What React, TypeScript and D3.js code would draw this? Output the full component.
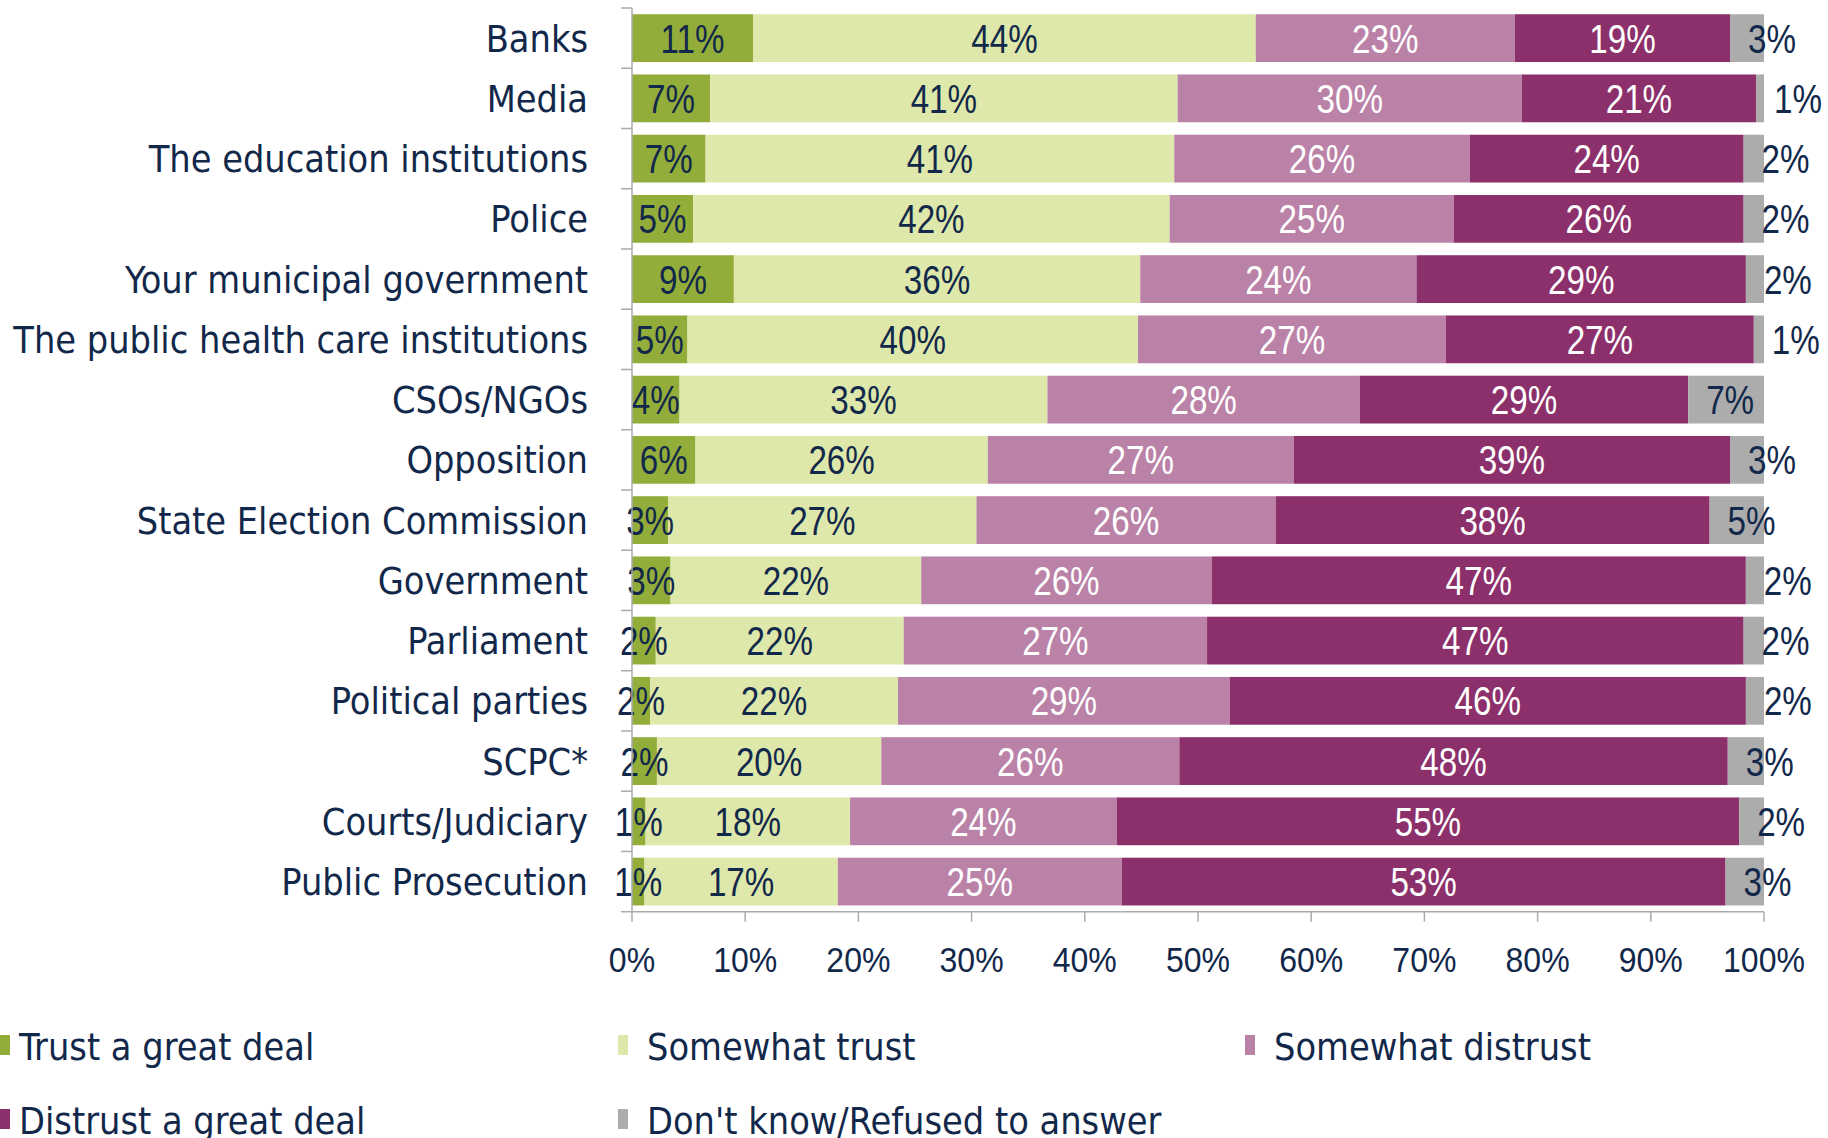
import React from "react";
import * as d3 from "d3";

const categories = [
  "Banks",
  "Media",
  "The education institutions",
  "Police",
  "Your municipal government",
  "The public health care institutions",
  "CSOs/NGOs",
  "Opposition",
  "State Election Commission",
  "Government",
  "Parliament",
  "Political parties",
  "SCPC*",
  "Courts/Judiciary",
  "Public Prosecution",
];

const seriesNames = [
  "Trust a great deal",
  "Somewhat trust",
  "Somewhat distrust",
  "Distrust a great deal",
  "Don't know/Refused to answer",
];

const trustGreatDeal = [10.7, 6.9, 6.5, 5.4, 9.0, 4.9, 4.2, 5.6, 3.2, 3.4, 2.1, 1.6, 2.2, 1.2, 1.1];
const somewhatTrust = [44.4, 41.3, 41.4, 42.1, 35.9, 39.8, 32.5, 25.8, 27.2, 22.1, 21.9, 21.9, 19.8, 18.1, 17.1];
const somewhatDistrust = [22.9, 30.4, 26.1, 25.1, 24.4, 27.2, 27.6, 27.0, 26.4, 25.6, 26.8, 29.3, 26.3, 23.6, 25.1];
const distrustGreatDeal = [19.0, 20.7, 24.2, 25.6, 29.1, 27.2, 29.0, 38.5, 38.3, 47.1, 47.4, 45.6, 48.4, 55.1, 53.4];
const dontKnow = [3.0, 0.7, 1.8, 1.8, 1.6, 0.9, 6.7, 3.0, 4.8, 1.6, 1.8, 1.6, 3.2, 2.2, 3.4];

const xTicks = [0, 10, 20, 30, 40, 50, 60, 70, 80, 90, 100];

const colors = ["#93AD3B", "#DDE8AA", "#BB82A8", "#8C306B", "#ACACAC"];
const labelColors = ["#12284A", "#12284A", "#FFFFFF", "#FFFFFF", "#12284A"];
const navy = "#12284A";
const axisGray = "#ABABAB";

const W = 1828;
const H = 1138;

export default function App() {
  const seriesValues = [trustGreatDeal, somewhatTrust, somewhatDistrust, distrustGreatDeal, dontKnow];
  const rows = categories.map((c, i) => {
    const r: any = { cat: c };
    seriesValues.forEach((s, k) => (r["s" + k] = s[i]));
    return r;
  });
  const keys = seriesValues.map((_, k) => "s" + k);
  const stack = d3.stack<any>().keys(keys).offset(d3.stackOffsetExpand);
  const stacked = stack(rows);

  const x = d3.scaleLinear().domain([0, 1]).range([632, 1764]);
  const xt = d3.scaleLinear().domain([0, 100]).range([632, 1764]);
  const y = d3
    .scaleBand<string>()
    .domain(categories)
    .range([8, 911.7])
    .paddingInner(0.207)
    .paddingOuter(0.1035);
  const bw = y.bandwidth();
  const step = y.step();
  const fmt = (v: number) => `${Math.round(v)}%`;

  const labelFont = "'DejaVu Sans Condensed', 'DejaVu Sans', sans-serif";
  const numFont = "'Liberation Sans', Arial, sans-serif";

  const legendPos = [
    { sx: 0, tx: 19, row: 0 },
    { sx: 618, tx: 647, row: 0 },
    { sx: 1245, tx: 1274, row: 0 },
    { sx: 0, tx: 19, row: 1 },
    { sx: 618, tx: 647, row: 1 },
  ];
  const legendRowY = [1035, 1109];

  const y0 = y.range()[0];
  const y1 = y.range()[1];

  return (
    <svg
      width={W}
      height={H}
      style={{ position: "absolute", left: 0, top: 0, background: "#fff" }}
    >
      {/* bars */}
      {stacked.map((layer, k) =>
        layer.map((d, i) => (
          <rect
            key={`b${k}-${i}`}
            x={x(d[0])}
            y={y(categories[i])}
            width={Math.max(0, x(d[1]) - x(d[0]))}
            height={bw}
            fill={colors[k]}
          />
        ))
      )}
      {/* value labels */}
      {stacked.map((layer, k) =>
        layer.map((d, i) => {
          const val = seriesValues[k][i];
          const cy = (y(categories[i]) as number) + bw / 2;
          const last = k === seriesValues.length - 1;
          const tx = last ? x(d[0]) + 18 : (x(d[0]) + x(d[1])) / 2;
          return (
            <text
              key={`l${k}-${i}`}
              transform={`translate(${tx},${cy + 14.5}) scale(0.83,1)`}
              textAnchor={last ? "start" : "middle"}
              fontFamily={numFont}
              fontSize={40}
              fill={labelColors[k]}
            >
              {fmt(val)}
            </text>
          );
        })
      )}
      {/* y axis */}
      <line x1={632} x2={632} y1={y0} y2={y1} stroke={axisGray} strokeWidth={1.5} />
      {d3.range(categories.length + 1).map((j) => (
        <line
          key={`yt${j}`}
          x1={621}
          x2={632}
          y1={y0 + j * step}
          y2={y0 + j * step}
          stroke={axisGray}
          strokeWidth={1.5}
        />
      ))}
      {categories.map((c) => (
        <text
          key={`yl${c}`}
          x={588}
          y={(y(c) as number) + bw / 2 + 13.5}
          textAnchor="end"
          fontFamily={labelFont}
          fontSize={37.5}
          fill={navy}
        >
          {c}
        </text>
      ))}
      {/* x axis */}
      <line x1={632} x2={1764} y1={y1} y2={y1} stroke={axisGray} strokeWidth={1.5} />
      {xTicks.map((t) => (
        <g key={`xt${t}`}>
          <line x1={xt(t)} x2={xt(t)} y1={y1} y2={y1 + 10} stroke={axisGray} strokeWidth={1.5} />
          <text
            transform={`translate(${xt(t)},971.5) scale(0.89,1)`}
            textAnchor="middle"
            fontFamily={numFont}
            fontSize={36}
            fill={navy}
          >
            {`${t}%`}
          </text>
        </g>
      ))}
      {/* legend */}
      {seriesNames.map((n, k) => {
        const p = legendPos[k];
        const ry = legendRowY[p.row];
        return (
          <g key={`lg${k}`}>
            <rect x={p.sx} y={ry} width={10} height={20} fill={colors[k]} />
            <text x={p.tx} y={ry + 24.5} fontFamily={labelFont} fontSize={37.5} fill={navy}>
              {n}
            </text>
          </g>
        );
      })}
    </svg>
  );
}
